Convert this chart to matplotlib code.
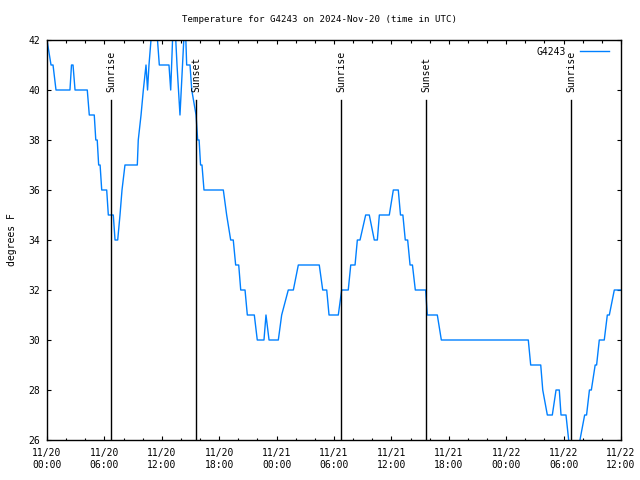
import matplotlib
matplotlib.use("Agg")
import matplotlib.pyplot as plt
import matplotlib.dates as mdates
import pandas as pd

# hours since 2024-11-20 00:00 UTC and temperature (F)
hours = [0.00, 0.42, 0.63, 0.94, 2.40, 2.56, 2.72, 2.93, 4.21, 4.42, 4.94, 5.10,
         5.25, 5.40, 5.55, 5.72, 6.24, 6.41, 6.93, 7.11, 7.39, 7.63, 7.84, 8.15,
         9.44, 9.54, 9.83, 10.07, 10.35, 10.51, 10.66, 10.87, 11.08, 11.39, 11.55, 11.74,
         12.75, 12.93, 13.22, 13.33, 13.59, 13.90, 14.16, 14.43, 14.60, 14.95, 15.13, 15.58,
         15.75, 15.90, 16.05, 16.20, 16.41, 18.43, 18.78, 19.20, 19.47, 19.72, 20.04, 20.25,
         20.70, 20.94, 21.67, 21.98, 22.68, 22.89, 23.21, 24.18, 24.53, 25.22, 25.75, 26.27,
         28.46, 28.82, 29.24, 29.48, 30.45, 30.80, 31.49, 31.75, 32.20, 32.44, 32.72, 33.31,
         33.69, 34.21, 34.53, 34.74, 35.78, 36.20, 36.72, 36.95, 37.20, 37.45, 37.70, 37.95,
         38.20, 38.50, 39.58, 39.75, 40.80, 41.22, 50.31, 50.56, 51.61, 51.82, 52.30, 52.82,
         53.21, 53.55, 53.73, 54.25, 54.53, 54.77, 55.50, 55.71, 56.20, 56.40, 56.70, 56.90,
         57.30, 57.45, 57.73, 58.25, 58.57, 58.78, 59.30, 60.00]
temps = [42, 41, 41, 40, 40, 41, 41, 40, 40, 39, 39, 38,
         38, 37, 37, 36, 36, 35, 35, 34, 34, 35, 36, 37,
         37, 38, 39, 40, 41, 40, 41, 42, 43, 43, 42, 41,
         41, 40, 43, 43, 41, 39, 41, 43, 41, 41, 40, 39,
         38, 38, 37, 37, 36, 36, 35, 34, 34, 33, 33, 32,
         32, 31, 31, 30, 30, 31, 30, 30, 31, 32, 32, 33,
         33, 32, 32, 31, 31, 32, 32, 33, 33, 34, 34, 35,
         35, 34, 34, 35, 35, 36, 36, 35, 35, 34, 34, 33,
         33, 32, 32, 31, 31, 30, 30, 29, 29, 28, 27, 27,
         28, 28, 27, 27, 26, 25, 25, 26, 27, 27, 28, 28,
         29, 29, 30, 30, 31, 31, 32, 32]

sun_times = ["2024-11-20 06:41", "2024-11-20 15:35", "2024-11-21 06:46",
             "2024-11-21 15:39", "2024-11-22 06:49"]
sun_labels = ["Sunrise", "Sunset", "Sunrise", "Sunset", "Sunrise"]

start = pd.Timestamp("2024-11-20 00:00")
times = start + pd.to_timedelta(hours, unit="h")

font = "DejaVu Sans Mono"
fs = 7

fig = plt.figure(figsize=(6.4, 4.8), dpi=100)
ax = fig.add_axes([47 / 640, 40 / 480, 574 / 640, 400 / 480])

ax.plot(times, temps, color="#0080ff", lw=1.0, label="G4243")

for t, lab in zip(sun_times, sun_labels):
    ts = pd.Timestamp(t)
    ax.plot([ts, ts], [0, 0.85], color="black", lw=1.0,
            transform=ax.get_xaxis_transform())
    ax.text(ts, 0.87, lab, rotation=90, ha="center", va="bottom",
            transform=ax.get_xaxis_transform(), fontsize=fs, family=font)

ax.set_xlim(start, start + pd.Timedelta(hours=60))
ax.set_ylim(26, 42)
ax.set_yticks(range(26, 43, 2))
ax.xaxis.set_major_locator(mdates.HourLocator(byhour=[0, 6, 12, 18]))
ax.xaxis.set_minor_locator(mdates.HourLocator(byhour=range(0, 24, 2)))
ax.xaxis.set_major_formatter(mdates.DateFormatter("%m/%d\n%H:%M"))

ax.tick_params(which="both", direction="in", top=True, right=True, width=0.8)
ax.tick_params(which="major", length=3.2)
ax.tick_params(which="minor", length=1.8)
ax.tick_params(axis="x", pad=6)
ax.tick_params(axis="y", pad=5)
for lbl in ax.get_xticklabels() + ax.get_yticklabels():
    lbl.set_fontsize(fs)
    lbl.set_family(font)
for sp in ax.spines.values():
    sp.set_linewidth(1.0)

ax.set_ylabel("degrees F", fontsize=fs, family=font, labelpad=8)
fig.text(0.5, 1 - 19 / 480, "Temperature for G4243 on 2024-Nov-20 (time in UTC)",
         ha="center", va="center", fontsize=6.6, family=font)

ax.legend(loc="upper right", frameon=False, markerfirst=False, handlelength=3,
          prop={"family": font, "size": fs}, bbox_to_anchor=(0.995, 1.005),
          handletextpad=1.5)

fig.savefig("out.png", dpi=100)
